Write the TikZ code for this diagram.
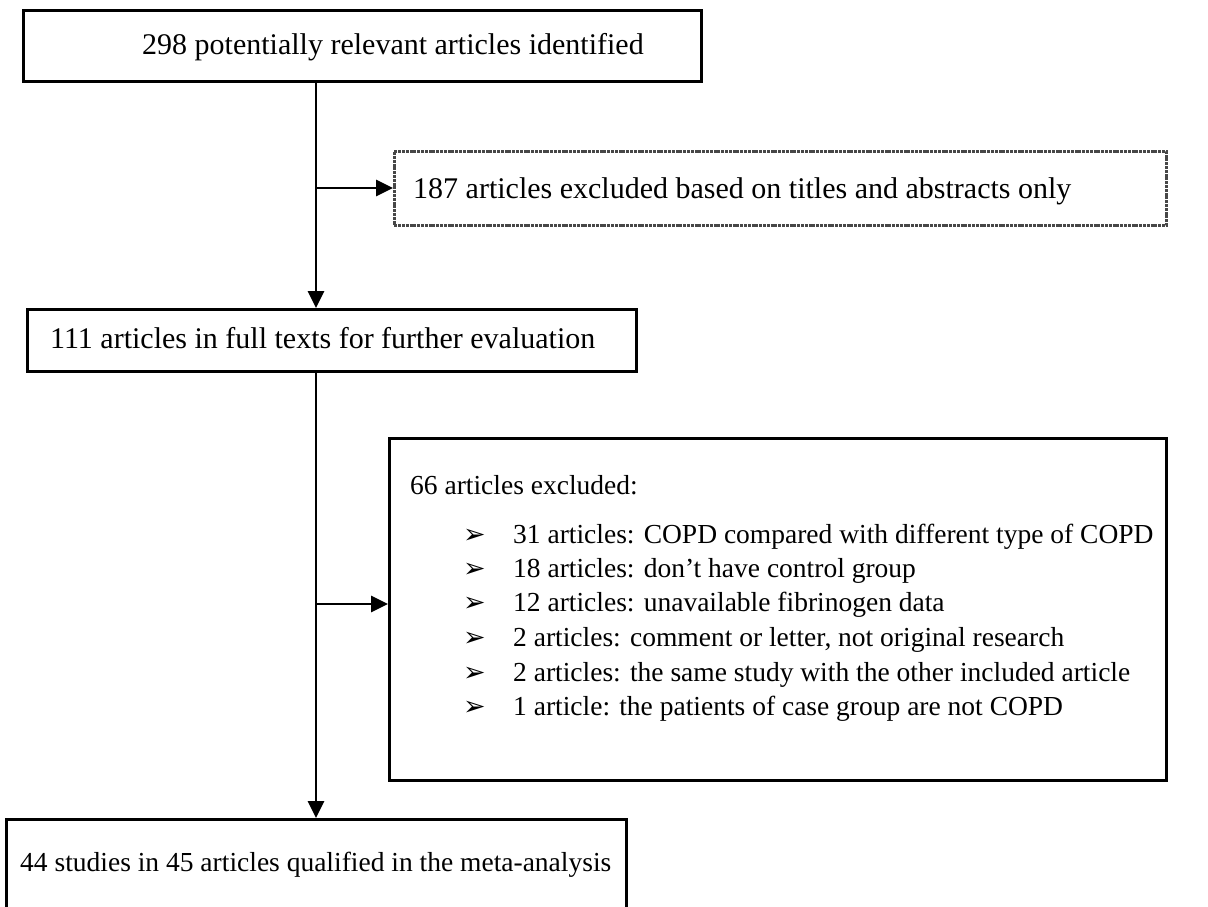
\documentclass[tikz,border=0pt]{standalone}
\usepackage{fontspec}
\setmainfont{Liberation Serif}
\newfontfamily\dvfont{DejaVu Sans}
\usetikzlibrary{arrows.meta}
\tikzset{
  boxnode/.style={draw=black, line width=2.8pt, rectangle, inner sep=0pt, anchor=north west},
  greybox/.style={draw=black!72, line width=2.8pt, dash pattern=on 3pt off 0.8pt, rectangle, inner sep=0pt, anchor=north west},
  txtbig/.style={anchor=base west, inner sep=0pt, font=\fontsize{30}{34}\selectfont},
  txt/.style={anchor=base west, inner sep=0pt, font=\fontsize{27.5}{32}\selectfont},
  bul/.style={anchor=base west, inner sep=0pt, font=\dvfont\fontsize{27}{30}\selectfont},
  flow/.style={line width=2.8pt, -{Triangle[length=17pt,width=16pt]}},
}
\begin{document}
\begin{tikzpicture}[x=1pt,y=-1pt]
\useasboundingbox (0,0) rectangle (1208,907);
\clip (0,0) rectangle (1208,907);
% boxes
\node[boxnode, minimum width=678pt, minimum height=71pt] (b1) at (22,9) {};
\node[greybox, minimum width=772pt, minimum height=74pt] (b187) at (393,150) {};
\node[boxnode, minimum width=609pt, minimum height=62pt] (b2) at (26,308) {};
\node[boxnode, minimum width=777pt, minimum height=342pt] (b66) at (388,437) {};
\node[boxnode, minimum width=620pt, minimum height=110pt] (b3) at (5,818) {};
% texts
\node[txtbig] (t1) at (142,55) {298 potentially relevant articles identified};
\node[txtbig] (t187) at (413,198) {187 articles excluded based on titles and abstracts only};
\node[txtbig] (t2) at (50,348) {111 articles in full texts for further evaluation};
\node[txt] (t66) at (410,494) {66 articles excluded:};
\node[bul] (m1) at (463,543) {➢};
\node[txt] (r1) at (513,543) {31 articles: COPD compared with different type of COPD};
\node[bul] (m2) at (463,577) {➢};
\node[txt] (r2) at (513,577) {18 articles: don’t have control group};
\node[bul] (m3) at (463,611) {➢};
\node[txt] (r3) at (513,611) {12 articles: unavailable fibrinogen data};
\node[bul] (m4) at (463,646) {➢};
\node[txt] (r4) at (513,646) {2 articles: comment or letter, not original research};
\node[bul] (m5) at (463,681) {➢};
\node[txt] (r5) at (513,681) {2 articles: the same study with the other included article};
\node[bul] (m6) at (463,715) {➢};
\node[txt] (r6) at (513,715) {1 article: the patients of case group are not COPD};
\node[txt] (t3) at (20,871) {44 studies in 45 articles qualified in the meta-analysis};
% connectors
\coordinate (trunk) at (316,0);
\coordinate (j1) at (316,188);
\coordinate (j2) at (316,604);
\draw[flow] (b1.south -| trunk) -- (b2.north -| trunk);
\draw[flow] (j1) -- (j1 -| b187.west);
\draw[flow] (b2.south -| trunk) -- (b3.north -| trunk);
\draw[flow] (j2) -- (j2 -| b66.west);
\end{tikzpicture}
\end{document}
